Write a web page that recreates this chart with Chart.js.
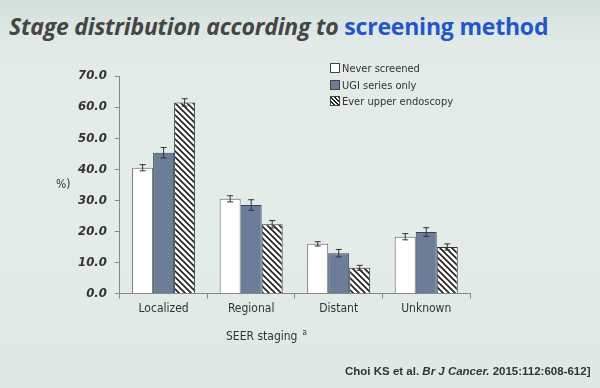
<!DOCTYPE html>
<html>
<head>
<meta charset="utf-8">
<script src="https://cdn.jsdelivr.net/npm/chart.js@4.4.1/dist/chart.umd.min.js"></script>
<style>
  html, body { margin: 0; padding: 0; }
  body {
    width: 600px; height: 388px; overflow: hidden; position: relative;
    background: linear-gradient(180deg, #d4dfdc 0%, #e2ebe8 12%, #e4ece9 60%, #dfe8e5 100%);
    font-family: "DejaVu Sans Condensed", "DejaVu Sans", sans-serif;
    color: #333;
  }
  #title {
    position: absolute; left: 9px; top: 10px; white-space: nowrap;
    font-family: "Open Sans", sans-serif; font-weight: bold; font-size: 23px;
    color: #454545; letter-spacing: -0.2px;
  }
  #title i { font-style: italic; }
  #title span { color: #2356c8; }
  #wrap { position: absolute; left: 0; top: 0; width: 600px; height: 388px; }
  #legend {
    position: absolute; left: 330px; top: 61px; font-size: 11px; line-height: 16.5px;
    color: #333;
  }
  #legend .box {
    display: inline-block; width: 8px; height: 8px; border: 1px solid #444;
    margin-right: 2px; vertical-align: -1px;
  }
  #ylab { position: absolute; left: 56px; top: 177px; font-size: 12px; }
  #xtitle { position: absolute; left: 226px; top: 328px; font-size: 12px; }
  #xtitle sup { font-size: 8px; margin-left: 5px; }
  #cite {
    position: absolute; left: 345px; top: 365px; font-family: "Liberation Sans", sans-serif;
    font-weight: bold; font-size: 11.5px; color: #333; white-space: nowrap;
  }
</style>
</head>
<body>
<div id="title"><i>Stage distribution according to </i><span>screening method</span></div>
<div id="wrap"><canvas id="barc" width="600" height="388"></canvas></div>
<div id="ylab">%)</div>
<div id="xtitle">SEER staging<sup>a</sup></div>
<div id="legend"></div>
<div id="cite">Choi KS et al. <i>Br J Cancer.</i> 2015:112:608-612]</div>
<script>
// Data

var categories = ["Localized", "Regional", "Distant", "Unknown"];
var seriesNames = ["Never screened", "UGI series only", "Ever upper endoscopy"];
var neverValues = [40.5, 30.5, 16.0, 18.3];
var ugiValues = [45.3, 28.5, 13.0, 19.8];
var everValues = [61.5, 22.3, 8.3, 15.0];
var neverErr = [1.0, 1.0, 0.7, 1.0];
var ugiErr = [1.7, 1.7, 1.2, 1.4];
var everErr = [1.2, 1.2, 0.8, 1.0];
var yTicks = [0, 10, 20, 30, 40, 50, 60, 70];

// Hatch pattern

function make_hatch() {
	var c = document.createElement('canvas');
	c.width = 6; c.height = 6;
	var ctx = c.getContext('2d');
	ctx.fillStyle = '#ffffff';
	ctx.fillRect(0, 0, 6, 6);
	ctx.strokeStyle = '#1e1e1e';
	ctx.lineWidth = 1.6;
	ctx.beginPath();
	ctx.moveTo(0, 0); ctx.lineTo(6, 6);
	ctx.moveTo(-3, 3); ctx.lineTo(3, 9);
	ctx.moveTo(3, -3); ctx.lineTo(9, 3);
	ctx.stroke();
	return document.getElementById('barc').getContext('2d').createPattern(c, 'repeat');
}

var hatch = make_hatch();

// Error bars drawn through the y scale

var errorBars = {
	id: 'errorBars',
	afterDatasetsDraw: function(chart) {
		var ctx = chart.ctx;
		var y = chart.scales.y;
		chart.data.datasets.forEach(function(ds, i) {
			var meta = chart.getDatasetMeta(i);
			meta.data.forEach(function(bar, j) {
				var v = ds.data[j], e = ds.errors[j];
				var top = y.getPixelForValue(v + e);
				var bot = y.getPixelForValue(v - e);
				ctx.save();
				ctx.strokeStyle = '#333';
				ctx.lineWidth = 1;
				ctx.beginPath();
				ctx.moveTo(bar.x, top); ctx.lineTo(bar.x, bot);
				ctx.moveTo(bar.x - 3, top); ctx.lineTo(bar.x + 3, top);
				ctx.moveTo(bar.x - 3, bot); ctx.lineTo(bar.x + 3, bot);
				ctx.stroke();
				ctx.restore();
			});
		});
	}
};

new Chart("barc", {
	type: "bar",
	data: {
		labels: categories,
		datasets: [{
			label: seriesNames[0],
			data: neverValues,
			errors: neverErr,
			backgroundColor: "#ffffff",
			borderColor: "#666",
			borderWidth: 1
		},
		{
			label: seriesNames[1],
			data: ugiValues,
			errors: ugiErr,
			backgroundColor: "#6c7d9a",
			borderColor: "#3a4458",
			borderWidth: 1
		},
		{
			label: seriesNames[2],
			data: everValues,
			errors: everErr,
			backgroundColor: hatch,
			borderColor: "#333",
			borderWidth: 1
		}]
	},
	options: {
		responsive: false,
		animation: false,
		layout: { padding: { left: 70, top: 76, right: 130, bottom: 69 } },
		plugins: {
			legend: { display: false },
			tooltip: { enabled: false }
		},
		datasets: { bar: { categoryPercentage: 0.72, barPercentage: 1.0 } },
		scales: {
			x: {
				grid: { display: true, drawOnChartArea: false, tickLength: 5, color: "#888", offset: true },
				border: { color: "#888" },
				ticks: { color: "#333", font: { family: "DejaVu Sans Condensed", size: 12 }, padding: 3 }
			},
			y: {
				min: 0,
				max: 70,
				afterBuildTicks: function(axis) {
					axis.ticks = yTicks.map(function(v) { return { value: v }; });
				},
				grid: { display: true, drawOnChartArea: false, tickLength: 5, color: "#888" },
				border: { color: "#888" },
				ticks: {
					color: "#333",
					font: { family: "DejaVu Sans Condensed", size: 13, style: "italic", weight: "bold" },
					padding: 8,
					callback: function(v) { return Number(v).toFixed(1); }
				}
			}
		}
	},
	plugins: [errorBars]
});

// Legend

var legendStyles = [
	"background:#fff",
	"background:#6c7d9a",
	"background:repeating-linear-gradient(45deg,#fff 0 1.5px,#222 1.5px 3px)"
];
var html = '';
seriesNames.forEach(function(name, i) {
	html += '<div><span class="box" style="' + legendStyles[i] + '"></span>' + name + '</div>';
});
document.getElementById('legend').innerHTML = html;
</script>
</body>
</html>
